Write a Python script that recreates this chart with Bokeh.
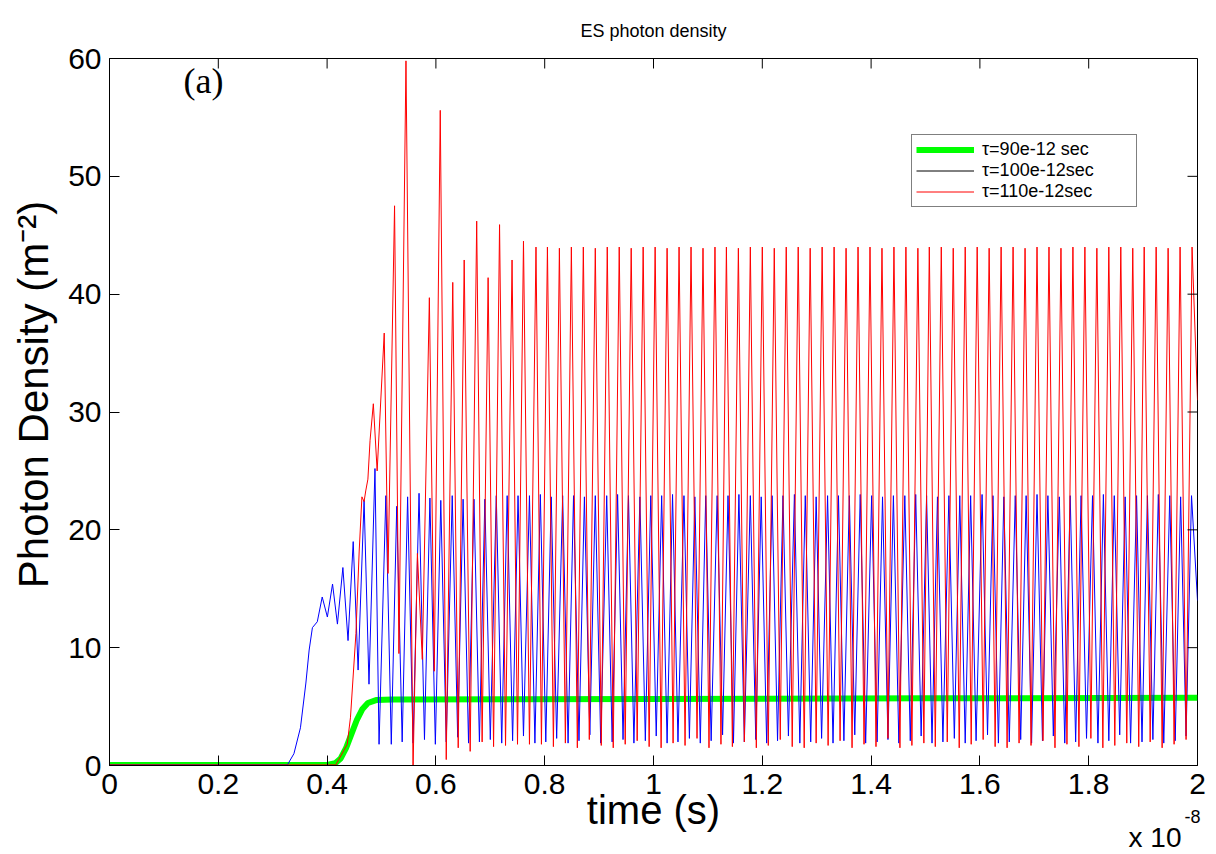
import numpy as np
from bokeh.plotting import figure
from bokeh.models import Range1d, FixedTicker, Label, Legend, LegendItem
from bokeh.embed import file_html
from bokeh.resources import INLINE

# ---------------- data (time in units of 1e-8 s) ----------------
x_ticks = [0, 0.2, 0.4, 0.6, 0.8, 1, 1.2, 1.4, 1.6, 1.8, 2]
x_tick_labels = ["0", "0.2", "0.4", "0.6", "0.8", "1", "1.2", "1.4", "1.6", "1.8", "2"]
y_ticks = [0, 10, 20, 30, 40, 50, 60]
series_labels = ["\u03c4=90e-12 sec", "\u03c4=100e-12sec", "\u03c4=110e-12sec"]

# tau = 90e-12 s (green)
green_t = [0.0, 0.400, 0.415, 0.425, 0.435, 0.445, 0.455, 0.465, 0.475, 0.490, 0.520, 1.000, 1.500, 2.000]
green_v = [0.05, 0.05, 0.2, 0.6, 1.5, 2.7, 3.9, 4.8, 5.3, 5.55, 5.6, 5.65, 5.7, 5.75]

# tau = 100e-12 s (blue trace)
blue_edge_t = [0.0, 0.327, 0.339, 0.351, 0.361, 0.367, 0.373, 0.382, 2.000]
blue_edge_v = [0.05, 0.05, 1.0, 3.2, 7.0, 9.8, 11.7, 12.2, 14.0]
blue_peak_t = [0.391, 0.410, 0.429, 0.448, 0.468, 0.488,
               0.508, 0.528, 0.548, 0.569, 0.589, 0.609, 0.630, 0.650, 0.670, 0.690,
               0.711, 0.731, 0.751, 0.772, 0.792, 0.812, 0.833, 0.853, 0.873, 0.893,
               0.914, 0.934, 0.954, 0.975, 0.995, 1.015, 1.035, 1.056, 1.076, 1.096,
               1.117, 1.137, 1.157, 1.178, 1.198, 1.218, 1.238, 1.259, 1.279, 1.299,
               1.320, 1.340, 1.360, 1.380, 1.401, 1.421, 1.441, 1.462, 1.482, 1.502,
               1.522, 1.543, 1.563, 1.583, 1.604, 1.624, 1.644, 1.665, 1.685, 1.705,
               1.725, 1.746, 1.766, 1.786, 1.807, 1.827, 1.847, 1.867, 1.888, 1.908,
               1.928, 1.949, 1.969, 1.989]
blue_peak_v = [14.3, 15.4, 16.8, 19.0, 22.5, 25.2,
               22.9, 22.0, 22.8, 23.1, 22.7, 22.5, 22.9, 22.6, 22.6, 22.6,
               22.9, 22.9, 22.9, 22.9, 23.0, 22.8, 22.9, 22.9, 22.8, 22.9,
               22.9, 23.0, 22.9, 22.8, 22.9, 22.9, 23.0, 22.9, 22.8, 22.9,
               22.9, 22.9, 23.0, 22.9, 22.8, 22.9, 22.9, 23.0, 22.9, 22.8,
               22.9, 22.9, 22.9, 23.0, 22.9, 22.8, 22.9, 22.9, 23.0, 22.9,
               22.8, 22.9, 22.9, 22.9, 23.0, 22.9, 22.8, 22.9, 22.9, 23.0,
               22.9, 22.8, 22.9, 22.9, 22.9, 23.0, 22.9, 22.8, 22.9, 22.9,
               23.0, 22.9, 22.8, 22.9]
blue_trough_t = [0.4005, 0.419, 0.4385, 0.457, 0.477, 0.4955,
                 0.518, 0.538, 0.558, 0.579, 0.599, 0.619, 0.640, 0.660, 0.680, 0.700,
                 0.721, 0.741, 0.761, 0.782, 0.802, 0.822, 0.843, 0.863, 0.883, 0.903,
                 0.924, 0.944, 0.964, 0.985, 1.005, 1.025, 1.045, 1.066, 1.086, 1.106,
                 1.127, 1.147, 1.167, 1.188, 1.208, 1.228, 1.248, 1.269, 1.289, 1.309,
                 1.330, 1.350, 1.370, 1.390, 1.411, 1.431, 1.451, 1.472, 1.492, 1.512,
                 1.532, 1.553, 1.573, 1.593, 1.614, 1.634, 1.654, 1.675, 1.695, 1.715,
                 1.735, 1.756, 1.776, 1.796, 1.817, 1.837, 1.857, 1.877, 1.898, 1.918,
                 1.938, 1.959, 1.979]
blue_trough_v = [12.6, 12.0, 10.6, 8.1, 6.9, 1.8,
                 1.8, 2.0, 1.9, 2.2, 1.8, 2.0, 2.4, 1.9, 2.0, 2.2,
                 1.9, 2.1, 2.5, 1.9, 2.0, 2.3, 1.9, 2.1, 2.6, 1.9,
                 2.0, 2.2, 1.9, 2.1, 2.5, 1.9, 2.0, 2.3, 1.9, 2.1,
                 2.6, 1.9, 2.0, 2.2, 1.9, 2.1, 2.5, 1.9, 2.0, 2.3,
                 1.9, 2.1, 2.6, 1.9, 2.0, 2.2, 1.9, 2.1, 2.5, 1.9,
                 2.0, 2.3, 1.9, 2.1, 2.6, 1.9, 2.0, 2.2, 1.9, 2.1,
                 2.5, 1.9, 2.0, 2.3, 1.9, 2.1, 2.6, 1.9, 2.0, 2.2,
                 1.9, 2.1, 2.5]

# tau = 110e-12 s (red)
red_edge_t = [0.0, 0.416, 0.437, 0.443, 0.453, 0.459, 0.464, 0.468, 0.471, 0.475, 0.479, 2.000]
red_edge_v = [0.05, 0.05, 1.8, 4.1, 11.2, 18.2, 22.8, 22.4, 23.3, 24.3, 27.6, 31.0]
red_peak_t = [0.485, 0.505, 0.524, 0.545, 0.566, 0.588, 0.608, 0.631, 0.652, 0.675,
              0.696, 0.717, 0.740, 0.761, 0.784,
              0.805, 0.827, 0.849, 0.871, 0.893, 0.915, 0.937, 0.959, 0.981, 1.003,
              1.025, 1.047, 1.069, 1.091, 1.113, 1.134, 1.156, 1.178, 1.200, 1.222,
              1.244, 1.266, 1.288, 1.310, 1.332, 1.354, 1.376, 1.398, 1.420, 1.442,
              1.464, 1.486, 1.507, 1.529, 1.551, 1.573, 1.595, 1.617, 1.639, 1.661,
              1.683, 1.705, 1.727, 1.749, 1.771, 1.793, 1.815, 1.837, 1.859, 1.881,
              1.902, 1.924, 1.946, 1.968, 1.990]
red_peak_v = [30.7, 36.7, 47.5, 59.8, 18.0, 39.7, 55.6, 41.0, 42.9, 46.2,
              41.4, 45.9, 42.9, 44.5, 44.0,
              44.0, 43.9, 44.0, 44.0, 43.9, 44.0, 44.0, 43.9, 44.0, 44.0,
              43.9, 44.0, 44.0, 43.9, 44.0, 44.0, 43.9, 44.0, 44.0, 43.9,
              44.0, 44.0, 43.9, 44.0, 44.0, 43.9, 44.0, 44.0, 43.9, 44.0,
              44.0, 43.9, 44.0, 44.0, 43.9, 44.0, 44.0, 43.9, 44.0, 44.0,
              43.9, 44.0, 44.0, 43.9, 44.0, 44.0, 43.9, 44.0, 44.0, 43.9,
              44.0, 44.0, 43.9, 44.0, 44.0]
red_trough_t = [0.492, 0.512, 0.532, 0.558, 0.575, 0.597, 0.619, 0.641, 0.663, 0.685,
                0.706, 0.728, 0.750, 0.772, 0.794,
                0.816, 0.838, 0.860, 0.882, 0.904, 0.926, 0.948, 0.970, 0.992, 1.014,
                1.036, 1.058, 1.080, 1.102, 1.124, 1.145, 1.167, 1.189, 1.211, 1.233,
                1.255, 1.277, 1.299, 1.321, 1.343, 1.365, 1.387, 1.409, 1.431, 1.453,
                1.475, 1.497, 1.518, 1.540, 1.562, 1.584, 1.606, 1.628, 1.650, 1.672,
                1.694, 1.716, 1.738, 1.760, 1.782, 1.804, 1.826, 1.848, 1.870, 1.892,
                1.913, 1.935, 1.957, 1.979]
red_trough_v = [25.0, 16.3, 9.5, -0.3, 9.0, 8.0, 0.5, 1.5, 1.2, 2.0,
                1.6, 1.7, 1.8, 1.8, 1.8,
                1.6, 1.9, 1.5, 2.2, 1.7, 1.5, 1.8, 2.1, 1.6, 1.5,
                1.9, 1.7, 2.3, 1.5, 1.8, 1.6, 2.0, 1.5, 1.7, 2.2,
                1.6, 1.5, 1.9, 1.7, 2.1, 1.5, 1.8, 1.6, 2.3, 1.5,
                1.7, 1.9, 1.6, 2.0, 1.5, 1.8, 2.2, 1.6, 1.5, 1.9,
                1.7, 2.1, 1.5, 1.8, 1.6, 2.3, 1.5, 1.7, 1.9, 1.6,
                2.0, 1.5, 1.8, 2.2]


def assemble(*pairs):
    t = np.concatenate([np.asarray(a, float) for a in pairs[0::2]])
    v = np.concatenate([np.asarray(b, float) for b in pairs[1::2]])
    o = np.argsort(t, kind="stable")
    return t[o], v[o]


blue_t, blue_v = assemble(blue_edge_t, blue_edge_v, blue_peak_t, blue_peak_v, blue_trough_t, blue_trough_v)
red_t, red_v = assemble(red_edge_t, red_edge_v, red_peak_t, red_peak_v, red_trough_t, red_trough_v)

FONT = "Liberation Sans"
FRAME_W, FRAME_H = 1088, 707
X0, X1, Y0, Y1 = 0, 2, 0, 60
TICK_PX = 10

p = figure(frame_width=FRAME_W, frame_height=FRAME_H,
           x_range=Range1d(X0, X1), y_range=Range1d(Y0, Y1),
           output_backend="svg", toolbar_location=None,
           min_border_left=109, min_border_top=58, min_border_right=17, min_border_bottom=87,
           title="ES photon density")
p.background_fill_color = "white"
p.border_fill_color = "white"
p.outline_line_color = "black"
p.outline_line_width = 1
p.grid.visible = False

p.title.text_font = FONT
p.title.text_font_size = "18px"
p.title.text_font_style = "normal"
p.title.text_color = "black"
p.title.align = "center"
p.title.standoff = 35

green_r = p.line(green_t, green_v, line_color="#00ff00", line_width=6)
blue_r = p.line(blue_t, blue_v, line_color="#0000ff", line_width=1)
black_r = p.line([np.nan], [np.nan], line_color="black", line_width=1)
red_r = p.line(red_t, red_v, line_color="#ff0000", line_width=1)

# inward tick marks on the top and right edges of the box (MATLAB "box on")
dy = TICK_PX * (Y1 - Y0) / FRAME_H
dx = TICK_PX * (X1 - X0) / FRAME_W
p.segment(x0=x_ticks, y0=[Y1] * len(x_ticks), x1=x_ticks, y1=[Y1 - dy] * len(x_ticks),
          line_color="black", line_width=1)
p.segment(x0=[X1] * len(y_ticks), y0=y_ticks, x1=[X1 - dx] * len(y_ticks), y1=y_ticks,
          line_color="black", line_width=1)


def style_axis(ax, ticks):
    ax.ticker = FixedTicker(ticks=ticks)
    ax.major_tick_in = TICK_PX
    ax.major_tick_out = 0
    ax.minor_tick_in = 0
    ax.minor_tick_out = 0
    ax.axis_line_color = "black"
    ax.major_tick_line_color = "black"
    ax.major_label_text_font = FONT
    ax.major_label_text_color = "black"
    ax.axis_label_text_font = FONT
    ax.axis_label_text_font_style = "normal"
    ax.axis_label_text_color = "black"


xa = p.xaxis[0]
style_axis(xa, x_ticks)
xa.major_label_overrides = dict(zip(x_ticks, x_tick_labels))
xa.major_label_text_font_size = "30px"
xa.major_label_standoff = 8
xa.axis_label = "time (s)"
xa.axis_label_text_font_size = "40px"
xa.axis_label_standoff = -9

ya = p.yaxis[0]
style_axis(ya, y_ticks)
ya.major_label_text_font_size = "30px"
ya.major_label_standoff = 8
ya.axis_label = "\u00a0\u00a0\u00a0Photon Density (m\u207b\u00b2)"
ya.axis_label_text_font_size = "42px"
ya.axis_label_standoff = 8

legend = Legend(items=[LegendItem(label=series_labels[0], renderers=[green_r]),
                       LegendItem(label=series_labels[1], renderers=[black_r]),
                       LegendItem(label=series_labels[2], renderers=[red_r])],
                location=(802, 558))
legend.label_text_font = FONT
legend.label_text_font_size = "18px"
legend.label_text_color = "black"
legend.glyph_width = 58
legend.glyph_height = 17
legend.label_height = 17
legend.label_width = 150
legend.label_standoff = 8
legend.padding = 4
legend.spacing = 0
legend.margin = 0
legend.border_line_color = "black"
legend.border_line_width = 1
legend.background_fill_color = "white"
legend.background_fill_alpha = 1
p.add_layout(legend, "center")

p.add_layout(Label(x=0.136, y=58.1, text="(a)", text_font="Liberation Serif", text_color="black",
                   text_font_size="36px", text_baseline="middle", text_align="left"))

# exponent note under the right end of the time axis (outside the frame, so in the below panel)
p.add_layout(Label(x=1.9706, y=-6.1, text="x 10", text_font=FONT, text_color="black",
                   text_font_size="28px", text_baseline="alphabetic", text_align="right"), "below")
p.add_layout(Label(x=1.976, y=-4.3, text="-8", text_font=FONT, text_color="black",
                   text_font_size="18px", text_baseline="alphabetic", text_align="left"), "below")

open("out.html", "w").write(file_html(p, INLINE))
